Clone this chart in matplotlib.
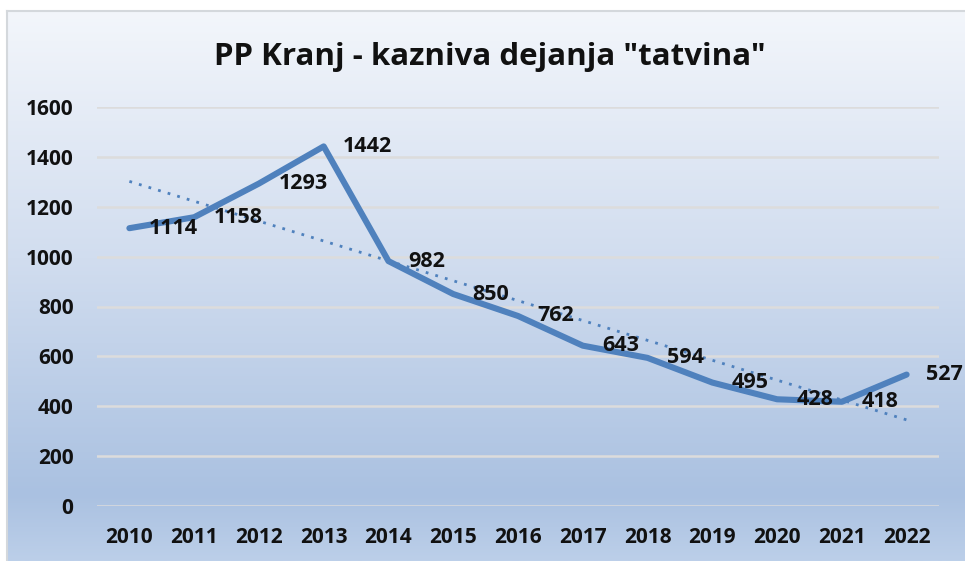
import matplotlib.pyplot as plt
from matplotlib.colors import LinearSegmentedColormap
import numpy as np

# data
years = ["2010", "2011", "2012", "2013", "2014", "2015", "2016",
         "2017", "2018", "2019", "2020", "2021", "2022"]
cases = [1114, 1158, 1293, 1442, 982, 850, 762, 643, 594, 495, 428, 418, 527]
y_ticks = [0, 200, 400, 600, 800, 1000, 1200, 1400, 1600]
title = 'PP Kranj - kazniva dejanja "tatvina"'

line_color = "#4f81bd"
font = "Open Sans"

fig = plt.figure(figsize=(9.65, 5.61), dpi=100)
fig.patch.set_facecolor("white")

# gradient background panel
bg = fig.add_axes([7 / 965, 0, 1 - 7 / 965, 1 - 11 / 561])
grad = LinearSegmentedColormap.from_list(
    "bg", [(0.0, "#f3f6fb"), (0.45, "#d1ddef"), (0.88, "#aac1e1"), (1.0, "#bccfe9")]
)
bg.imshow(np.linspace(0, 1, 256).reshape(-1, 1), aspect="auto", cmap=grad,
          extent=[0, 1, 0, 1], origin="upper")
bg.set_xlim(0, 1)
bg.set_ylim(0, 1)
bg.set_xticks([])
bg.set_yticks([])
for side in ["right", "bottom"]:
    bg.spines[side].set_visible(False)
for side in ["left", "top"]:
    bg.spines[side].set_color("#d4d8dc")
    bg.spines[side].set_linewidth(1.5)

ax = fig.add_axes([97 / 965, 1 - 506 / 561, 842 / 965, 399 / 561])
ax.patch.set_alpha(0)

x = np.arange(len(years))
ax.plot(x, cases, color=line_color, linewidth=4.4, solid_joinstyle="round",
        solid_capstyle="round", zorder=3)

# linear trend line
k, n = np.polyfit(x, cases, 1)
ax.plot(x, k * x + n, color=line_color, linewidth=2.0, linestyle=(0, (1, 2.6)),
        zorder=2)

for xi, v in zip(x, cases):
    ax.annotate(str(v), (xi, v), xytext=(14, 0), textcoords="offset points",
                ha="left", va="center", fontsize=15.5, fontweight="bold",
                family=font, color="#111111", zorder=4)

ax.set_xlim(-0.5, len(years) - 0.5)
ax.set_ylim(0, 1600)
ax.set_yticks(y_ticks)
ax.set_xticks(x)
ax.set_xticklabels(years)
ax.grid(axis="y", color="#dcdcdc", linewidth=1.8, zorder=0)
ax.set_axisbelow(True)
for s in ax.spines.values():
    s.set_visible(False)
ax.tick_params(axis="both", length=0, labelsize=15)
ax.tick_params(axis="x", pad=15)
ax.tick_params(axis="y", pad=17)
for lab in ax.get_xticklabels() + ax.get_yticklabels():
    lab.set_fontweight("bold")
    lab.set_family(font)
    lab.set_color("#111111")

fig.text(490 / 965, 1 - 57 / 561, title, ha="center", va="center",
         fontsize=22.5, fontweight="bold", family=font, color="#111111")

fig.savefig("out.png", dpi=100)
